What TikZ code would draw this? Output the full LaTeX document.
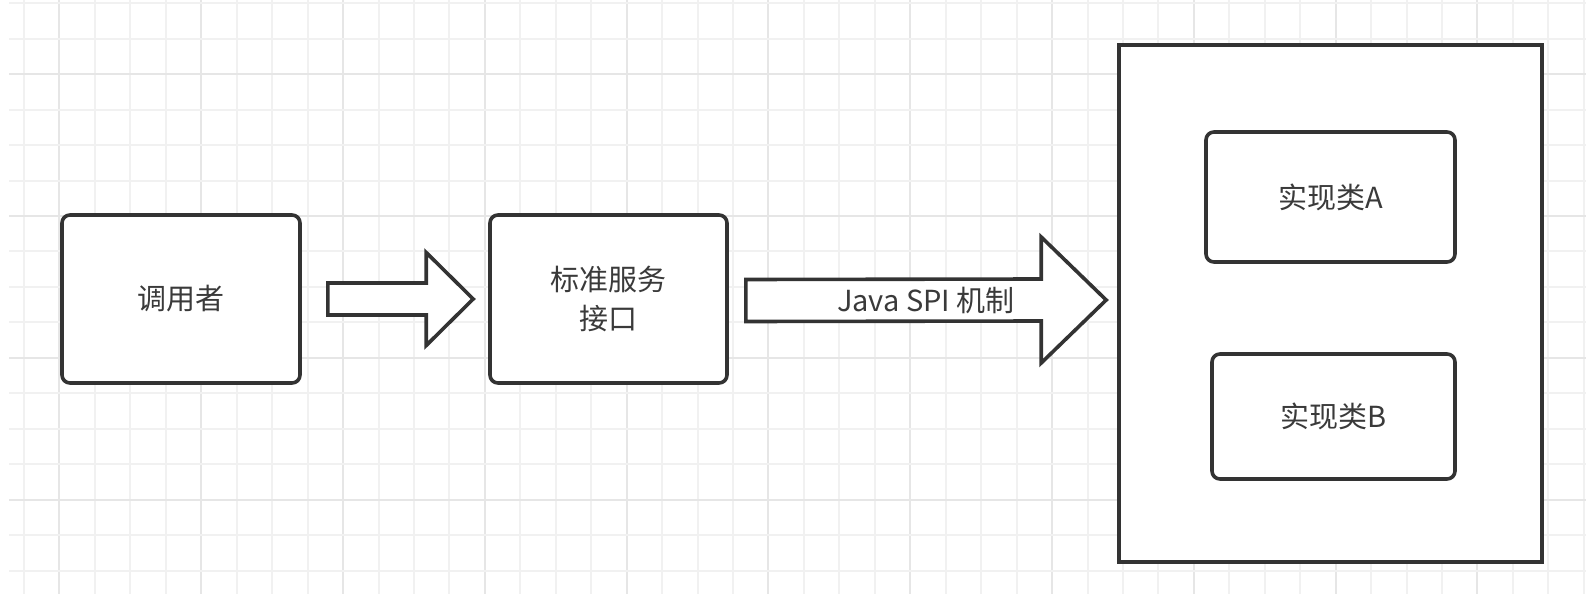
\documentclass[tikz,border=0pt]{standalone}
\usepackage{fontspec}
\setmainfont{Noto Sans CJK SC}
\usetikzlibrary{calc}
\definecolor{edge}{HTML}{333333}
\definecolor{ink}{HTML}{3A3A3A}
\definecolor{gridminor}{HTML}{F1F1F1}
\definecolor{gridmajor}{HTML}{E6E6E6}
\tikzset{
  box/.style={draw=edge, line width=1.8pt, rounded corners=4pt, fill=white, text=ink, inner sep=0pt, align=center},
  frame/.style={draw=edge, line width=1.8pt, fill=white, inner sep=0pt},
  blk/.style={draw=edge, line width=1.8pt, fill=white, line join=miter}
}
% block arrow: tail, tip, shaft half width, head half width, head length
\newcommand{\blockarrow}[5]{%
  \draw[blk] ($(#1)+(0,#3)$) -- ($(#2)+(-#5,#3)$) -- ($(#2)+(-#5,#4)$) -- (#2)
    -- ($(#2)+(-#5,-#4)$) -- ($(#2)+(-#5,-#3)$) -- ($(#1)+(0,-#3)$) -- cycle;}
\begin{document}
\begin{tikzpicture}[x=0.5pt, y=-0.5pt, font=\fontsize{14.5}{19.5}\selectfont]
    \useasboundingbox (0,0) rectangle (1586,594);
    \fill[white] (0,0) rectangle (1586,594);
    % grid
    \foreach \k in {0,...,44} {
        \pgfmathsetmacro{\gx}{24+35.45*\k}
        \pgfmathtruncatemacro{\maj}{mod(\k,4)==1}
        \ifnum\maj=1 \def\gc{gridmajor}\else\def\gc{gridminor}\fi
        \draw[\gc, line width=1pt] (\gx,0) -- (\gx,594);
    }
    \foreach \k in {0,...,16} {
        \pgfmathsetmacro{\gy}{3.3+35.45*\k}
        \pgfmathtruncatemacro{\maj}{mod(\k,4)==2}
        \ifnum\maj=1 \def\gc{gridmajor}\else\def\gc{gridminor}\fi
        \draw[\gc, line width=1pt] (9,\gy) -- (1586,\gy);
    }

    \node[box, minimum width=119pt, minimum height=84pt] (caller) at (181,299) {调用者};
    \node[box, minimum width=118.5pt, minimum height=84pt] (iface) at (608.5,299) {标准服务\\接口};
    \node[frame, minimum width=211.5pt, minimum height=258.5pt] (impls) at (1330.5,303.5) {};
    \node[box, minimum width=124.5pt, minimum height=65pt] (implA) at (1330.5,197) {实现类A};
    \node[box, minimum width=121.5pt, minimum height=62.5pt] (implB) at (1333.5,416.5) {实现类B};

    \coordinate (a1) at ($(caller.east)+(26,0)$);
    \coordinate (b1) at ($(iface.west)+(-15,0)$);
    \blockarrow{a1}{b1}{16}{46.5}{47}
    \coordinate (a2) at ($(iface.east)+(17,1.5)$);
    \coordinate (b2) at ($(impls.west)+(-11,-3.5)$);
    \blockarrow{a2}{b2}{21}{63}{65}
    \node[text=ink] (spi) at ($(a2)!0.5!(b2)$) {Java SPI 机制};
\end{tikzpicture}
\end{document}
